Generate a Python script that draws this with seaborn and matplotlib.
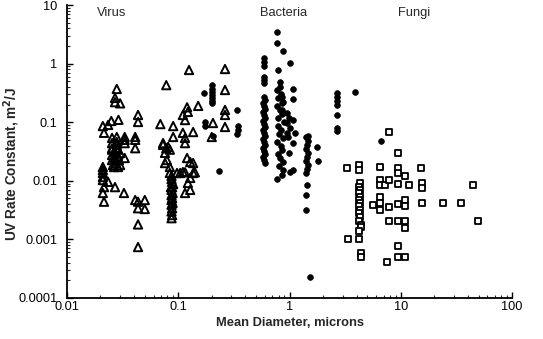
import numpy as np
import pandas as pd
import matplotlib
matplotlib.use("Agg")
import matplotlib.pyplot as plt
import seaborn as sns
from matplotlib.ticker import LogLocator, NullFormatter, FixedLocator, FixedFormatter

# ---------------- data ----------------
virus_d = [0.028, 0.027, 0.027, 0.030, 0.029, 0.021, 0.0215, 0.0234, 0.025,
           0.0254, 0.0254, 0.0254, 0.028, 0.028, 0.028, 0.033, 0.033, 0.033,
           0.041, 0.041, 0.0435, 0.0435, 0.069, 0.078, 0.073, 0.081, 0.090, 0.090,
           0.11, 0.115, 0.11, 0.115, 0.115, 0.12, 0.122, 0.125, 0.151, 0.136,
           0.205, 0.263, 0.263, 0.263, 0.263, 0.263, 0.20,
           0.021, 0.021, 0.021, 0.021, 0.021, 0.0215, 0.021, 0.0215, 0.0234, 0.027,
           0.0325, 0.041, 0.0435, 0.050, 0.0435, 0.050, 0.0435, 0.0435,
           0.0254, 0.0254, 0.0254, 0.0259, 0.027, 0.027, 0.0276, 0.028, 0.0287,
           0.0287, 0.0293, 0.030, 0.030, 0.0265, 0.0287, 0.033, 0.041,
           0.073, 0.078, 0.084, 0.076, 0.079, 0.076, 0.12, 0.128, 0.136,
           0.084, 0.084, 0.0975, 0.11, 0.136, 0.128, 0.122, 0.088, 0.088,
           0.087, 0.087, 0.090, 0.086, 0.087, 0.089, 0.087, 0.088, 0.087, 0.089,
           0.087, 0.088, 0.087, 0.088, 0.087, 0.128, 0.115, 0.104, 0.115, 0.141]
virus_k = [0.37, 0.26, 0.22, 0.21, 0.11, 0.086, 0.066, 0.090, 0.105,
           0.054, 0.044, 0.036, 0.056, 0.046, 0.036, 0.056, 0.050, 0.044,
           0.056, 0.050, 0.133, 0.101, 0.093, 0.43, 0.044, 0.038, 0.086, 0.056,
           0.133, 0.109, 0.066, 0.054, 0.044, 0.18, 0.15, 0.78, 0.19, 0.068,
           0.097, 0.81, 0.355, 0.162, 0.133, 0.083, 0.056,
           0.0172, 0.0153, 0.0136, 0.0116, 0.0103, 0.0078, 0.0062, 0.0044, 0.0096, 0.0078,
           0.0062, 0.0047, 0.0044, 0.0047, 0.0034, 0.0033, 0.0018, 0.00074,
           0.034, 0.0275, 0.0226, 0.0186, 0.031, 0.0245, 0.0201, 0.041, 0.034,
           0.0265, 0.0226, 0.0186, 0.0298, 0.0172, 0.0172, 0.0245, 0.036,
           0.041, 0.036, 0.034, 0.030, 0.0226, 0.0201, 0.0245, 0.0209, 0.0201,
           0.0172, 0.0136, 0.0136, 0.0141, 0.0136, 0.0112, 0.0092, 0.0096, 0.0078,
           0.0121, 0.0107, 0.0088, 0.0078, 0.0070, 0.0062, 0.0057, 0.0051, 0.0047, 0.0042,
           0.0039, 0.0034, 0.0030, 0.0026, 0.0023, 0.0070, 0.0062, 0.0136, 0.0140, 0.0140]

bact_d = [0.17, 0.20, 0.20, 0.20, 0.20, 0.20, 0.20, 0.20, 0.174, 0.174, 0.205,
          0.337, 0.344, 0.344, 0.337, 0.232,
          0.59, 0.59, 0.59, 0.59, 0.59, 0.59,
          0.59, 0.60, 0.58, 0.59, 0.60, 0.58, 0.59, 0.60, 0.58, 0.59, 0.60, 0.58,
          0.59, 0.60, 0.58, 0.59, 0.60, 0.58, 0.59, 0.60, 0.58, 0.59, 0.60,
          0.77, 0.77, 0.875, 0.78, 0.82, 0.82,
          0.77, 0.84, 0.79, 0.88, 0.77, 0.82, 0.86, 0.79, 0.90, 0.78,
          0.84, 0.80, 0.88, 0.77, 0.83, 0.86, 0.79, 0.82, 0.88, 0.80,
          0.875, 0.857, 0.773, 1.01, 1.07, 0.857, 0.86, 0.86,
          1.02, 1.07, 1.07, 0.95, 0.98, 0.95, 1.00, 0.95, 0.97, 1.07, 1.12, 1.07, 0.99,
          1.46, 1.41, 1.46, 1.44, 1.41, 1.46, 1.44, 1.41, 1.46, 1.44, 1.41,
          1.77, 1.80, 1.44, 1.41, 1.41, 1.53,
          2.67, 2.67, 2.67, 2.67, 2.67, 2.67, 2.67, 3.88, 6.6, 6.5]
bact_k = [0.315, 0.43, 0.37, 0.33, 0.29, 0.26, 0.23, 0.21, 0.101, 0.086, 0.058,
          0.162, 0.086, 0.074, 0.063, 0.0147,
          1.25, 1.06, 0.91, 0.59, 0.525, 0.467,
          0.269, 0.239, 0.213, 0.189, 0.168, 0.149, 0.133, 0.118, 0.105, 0.093, 0.083, 0.0736,
          0.0655, 0.058, 0.0517, 0.046, 0.041, 0.036, 0.0323, 0.0286, 0.0255, 0.0226, 0.0201,
          3.46, 2.25, 1.64, 0.78, 0.49, 0.40,
          0.355, 0.303, 0.259, 0.221, 0.189, 0.162, 0.138, 0.118, 0.101, 0.086,
          0.0736, 0.0629, 0.0537, 0.0459, 0.0393, 0.0336, 0.0286, 0.0245, 0.0209, 0.0179,
          0.0153, 0.0126, 0.0107, 0.0141, 0.0153, 0.27, 0.21, 0.165,
          1.02, 0.37, 0.25, 0.144, 0.118, 0.097, 0.080, 0.066, 0.056, 0.109, 0.066, 0.044, 0.0298,
          0.058, 0.0559, 0.0478, 0.0408, 0.035, 0.0298, 0.0255, 0.0218, 0.0186, 0.0159, 0.0136,
          0.0378, 0.0218, 0.0085, 0.0057, 0.0032, 0.00023,
          0.315, 0.27, 0.23, 0.20, 0.133, 0.080, 0.071, 0.327, 0.048, 0.0172]

fungi_d = [7.83, 9.44, 3.29, 4.22, 4.22, 6.5, 9.44, 9.44, 10.9, 15.2,
           6.5, 6.5, 7.2, 7.8, 9.44, 11.9, 15.5, 15.5, 44.6,
           4.3, 4.2, 4.3, 4.2, 4.3, 4.2, 4.3, 4.2, 4.3, 4.2, 4.3, 4.2, 4.4, 4.4, 4.2,
           3.36, 4.22, 4.4, 4.4, 5.64, 6.5, 6.5, 6.5, 7.8, 9.44, 10.9, 10.9,
           15.5, 24.0, 34.8, 7.8, 9.44, 10.9, 10.9, 49.4, 9.44, 7.5, 9.44, 10.9]
fungi_k = [0.068, 0.0298, 0.0165, 0.0186, 0.0153, 0.0172, 0.0165, 0.0136, 0.0121, 0.0165,
           0.0103, 0.0085, 0.0085, 0.0103, 0.0088, 0.0085, 0.0092, 0.0075, 0.0085,
           0.0092, 0.0078, 0.0070, 0.0062, 0.0053, 0.0047, 0.0042, 0.0037, 0.0032, 0.0028,
           0.0024, 0.0021, 0.00176, 0.00163, 0.00139,
           0.00102, 0.00102, 0.00059, 0.00050, 0.00386, 0.0053, 0.0042, 0.0032, 0.0036,
           0.0040, 0.0047, 0.0037,
           0.0042, 0.0042, 0.0042, 0.0021, 0.0021, 0.0021, 0.00157, 0.0021, 0.00077,
           0.00041, 0.00050, 0.00050]

group_names = ["Virus", "Bacteria", "Fungi"]
label_x = [0.0254, 0.875, 13.2]
label_y = [7.3, 7.3, 7.3]

x_ticks = [0.01, 0.1, 1, 10, 100]
x_tick_labels = ["0.01", "0.1", "1", "10", "100"]
y_ticks = [0.0001, 0.001, 0.01, 0.1, 1, 10]
y_tick_labels = ["0.0001", "0.001", "0.01", "0.1", "1", "10"]

# ---------------- figure ----------------
sns.set_style("ticks")
plt.rcParams["font.family"] = ["Liberation Sans", "DejaVu Sans"]

fig = plt.figure(figsize=(5.43, 3.39), dpi=100)
ax = fig.add_axes([0.1234, 0.121, 0.8196, 0.864])

df_v = pd.DataFrame({"d": virus_d, "k": virus_k})
df_b = pd.DataFrame({"d": bact_d, "k": bact_k})
df_f = pd.DataFrame({"d": fungi_d, "k": fungi_k})

sns.scatterplot(data=df_v, x="d", y="k", marker="^", s=36, facecolor="none",
                edgecolor="black", linewidth=1.4, ax=ax, zorder=3)
sns.scatterplot(data=df_b, x="d", y="k", marker="o", s=17, color="black",
                edgecolor="black", linewidth=0.5, ax=ax, zorder=3)
sns.scatterplot(data=df_f, x="d", y="k", marker="s", s=22, facecolor="white",
                edgecolor="black", linewidth=1.3, ax=ax, zorder=3)

ax.set_xscale("log")
ax.set_yscale("log")
ax.set_xlim(0.01, 100)
ax.set_ylim(0.0001, 10)

ax.xaxis.set_major_locator(FixedLocator(x_ticks))
ax.xaxis.set_major_formatter(FixedFormatter(x_tick_labels))
ax.yaxis.set_major_locator(FixedLocator(y_ticks))
ax.yaxis.set_major_formatter(FixedFormatter(y_tick_labels))
ax.xaxis.set_minor_locator(LogLocator(base=10, subs=np.arange(2, 10), numticks=20))
ax.yaxis.set_minor_locator(LogLocator(base=10, subs=np.arange(2, 10), numticks=20))
ax.xaxis.set_minor_formatter(NullFormatter())
ax.yaxis.set_minor_formatter(NullFormatter())

ax.tick_params(which="major", direction="in", length=4, width=1.0,
               labelsize=9.2, colors="black")
ax.tick_params(axis="y", which="major", pad=7)
ax.tick_params(axis="x", which="major", pad=2)
ax.tick_params(which="minor", direction="in", length=2.5, width=0.8)

for side in ["top", "right"]:
    ax.spines[side].set_visible(False)
for side in ["left", "bottom"]:
    ax.spines[side].set_linewidth(1.3)
    ax.spines[side].set_color("black")

ax.set_xlabel("Mean Diameter, microns", fontsize=9.3, fontweight="bold")
ax.set_ylabel("UV Rate Constant, m$^\\mathbf{2}$/J", fontsize=9.8, fontweight="bold")
ax.xaxis.set_label_coords(0.501, -0.065)
ax.yaxis.set_label_coords(-0.101, 0.457)

for name, lx, ly in zip(group_names, label_x, label_y):
    ax.text(lx, ly, name, fontsize=9.3, ha="center", va="center")

ax.grid(False)
fig.savefig("out.png", dpi=100)
